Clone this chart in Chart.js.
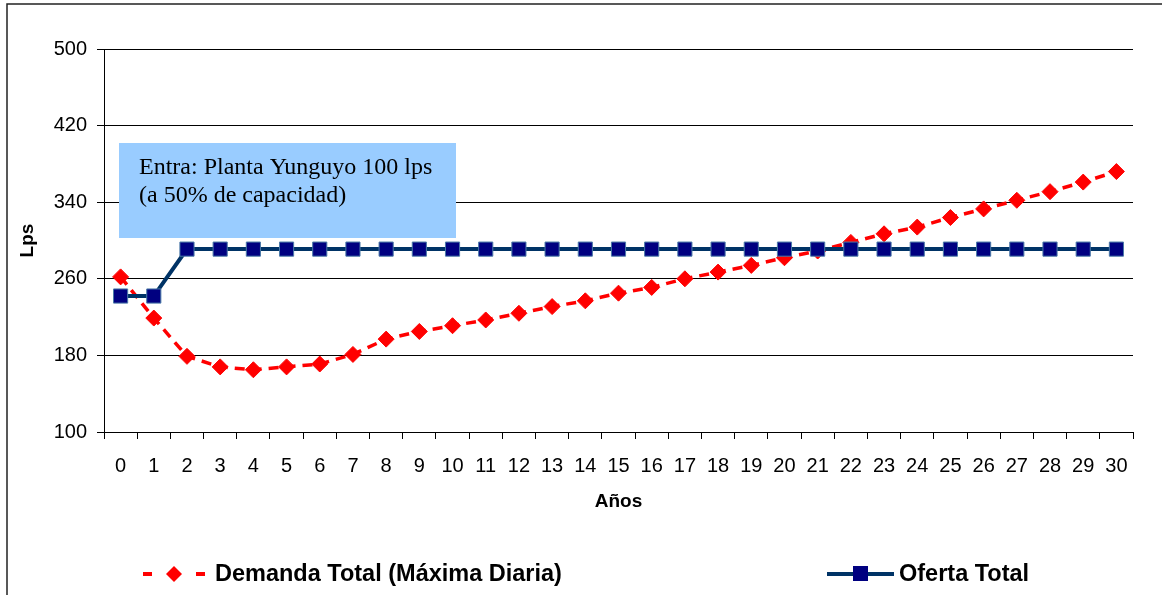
<!DOCTYPE html>
<html>
<head>
<meta charset="utf-8">
<script src="https://cdn.jsdelivr.net/npm/chart.js@4.4.1/dist/chart.umd.min.js"></script>
<style>
  body { margin: 0; background: #fff; }
  #wrap { position: relative; width: 1162px; height: 595px; }
</style>
</head>
<body>
<div id="wrap"><canvas id="chart"></canvas></div>
<script>
// data
var anios = ['0','1','2','3','4','5','6','7','8','9','10','11','12','13','14','15',
             '16','17','18','19','20','21','22','23','24','25','26','27','28','29','30'];
var demandaTotal = [262, 219, 179, 168, 165, 168, 171, 181, 197, 205, 211, 217, 224, 231, 237, 245,
                    251, 260, 267, 274, 282, 289, 298, 307, 314, 324, 333, 342, 351, 361, 372];
var ofertaTotal = [242, 242, 291, 291, 291, 291, 291, 291, 291, 291, 291, 291, 291, 291, 291, 291,
                   291, 291, 291, 291, 291, 291, 291, 291, 291, 291, 291, 291, 291, 291, 291];
var yTicks = [100, 180, 260, 340, 420, 500];
var nota = ['Entra: Planta Yunguyo 100 lps', '(a 50% de capacidad)'];
var leyenda = ['Demanda Total (Máxima Diaria)', 'Oferta Total'];

var sans = "'Liberation Sans', Arial, sans-serif";

// frame, note box and legend
var extras = {
  id: 'extras',
  beforeDraw: function(chart) {
    var ctx = chart.ctx;
    ctx.save();
    ctx.strokeStyle = '#222';
    ctx.lineWidth = 1.5;
    ctx.strokeRect(7, 4, 1300, 800);
    ctx.restore();
  },
  beforeDatasetsDraw: function(chart) {
    var ctx = chart.ctx, a = chart.chartArea;
    var x = a.left + 15, y = a.top + 94;
    ctx.save();
    ctx.fillStyle = '#99CCFF';
    ctx.fillRect(x, y, 337, 95);
    ctx.fillStyle = '#000';
    ctx.font = "24px 'Liberation Serif', 'Times New Roman', serif";
    ctx.textBaseline = 'alphabetic';
    ctx.fillText(nota[0], x + 20, y + 31);
    ctx.fillText(nota[1], x + 20, y + 59);
    ctx.restore();
  },
  afterDraw: function(chart) {
    var ctx = chart.ctx, ly = 574;
    ctx.save();
    // demanda
    ctx.strokeStyle = '#FF0000';
    ctx.lineWidth = 4;
    ctx.setLineDash([9, 44]);
    ctx.beginPath();
    ctx.moveTo(143, ly); ctx.lineTo(206, ly);
    ctx.stroke();
    ctx.setLineDash([]);
    ctx.fillStyle = '#FF0000';
    ctx.beginPath();
    ctx.moveTo(174, ly - 8); ctx.lineTo(182, ly); ctx.lineTo(174, ly + 8); ctx.lineTo(166, ly);
    ctx.closePath(); ctx.fill();
    // oferta
    ctx.strokeStyle = '#003366';
    ctx.beginPath();
    ctx.moveTo(827, ly); ctx.lineTo(894, ly);
    ctx.stroke();
    ctx.fillStyle = '#000080';
    ctx.fillRect(853, ly - 8, 15, 15);
    // texts
    ctx.fillStyle = '#000';
    ctx.font = 'bold 23.5px ' + sans;
    ctx.textBaseline = 'middle';
    ctx.fillText(leyenda[0], 215, ly + 1);
    ctx.fillText(leyenda[1], 899, ly + 1);
    ctx.restore();
  }
};

new Chart(document.getElementById('chart'), {
  type: 'line',
  data: {
    labels: anios,
    datasets: [
      {
        label: leyenda[0],
        data: demandaTotal,
        order: 1,
        borderColor: '#FF0000',
        borderWidth: 3.5,
        borderDash: [10, 7],
        pointStyle: 'rectRot',
        pointRadius: 8,
        pointBackgroundColor: '#FF0000',
        pointBorderColor: '#FF0000',
        pointBorderWidth: 1,
        tension: 0,
        fill: false
      },
      {
        label: leyenda[1],
        data: ofertaTotal,
        order: 0,
        borderColor: '#003366',
        borderWidth: 4,
        pointStyle: 'rect',
        pointRadius: 10,
        pointBackgroundColor: '#000080',
        pointBorderColor: '#4A7AA8',
        pointBorderWidth: 1,
        tension: 0,
        fill: false
      }
    ]
  },
  options: {
    responsive: true,
    maintainAspectRatio: false,
    animation: false,
    layout: { padding: { left: 8, top: 49, right: 29, bottom: 82 } },
    plugins: {
      legend: { display: false },
      tooltip: { enabled: false }
    },
    scales: {
      x: {
        type: 'category',
        offset: true,
        afterFit: function(s) { s.height = 81; },
        grid: { offset: true, drawOnChartArea: false, drawTicks: true, tickLength: 7, color: '#000' },
        border: { display: true, color: '#000', width: 1 },
        ticks: { color: '#000', font: { family: sans, size: 20 }, padding: 15, maxRotation: 0, autoSkip: false },
        title: { display: true, text: 'Años', color: '#000', font: { family: sans, size: 19, weight: 'bold' }, padding: { top: 4, bottom: 0 } }
      },
      y: {
        min: 100,
        max: 500,
        afterFit: function(s) { s.width = 96; },
        afterBuildTicks: function(s) { s.ticks = yTicks.map(function(v) { return { value: v }; }); },
        grid: { color: '#000', lineWidth: 1, drawTicks: true, tickLength: 7 },
        border: { display: true, color: '#000', width: 1 },
        ticks: { color: '#000', font: { family: sans, size: 20 }, padding: 10 },
        title: { display: true, text: 'Lps', color: '#000', font: { family: sans, size: 19, weight: 'bold' }, padding: { top: 8, bottom: 0 } }
      }
    }
  },
  plugins: [extras]
});
</script>
</body>
</html>
